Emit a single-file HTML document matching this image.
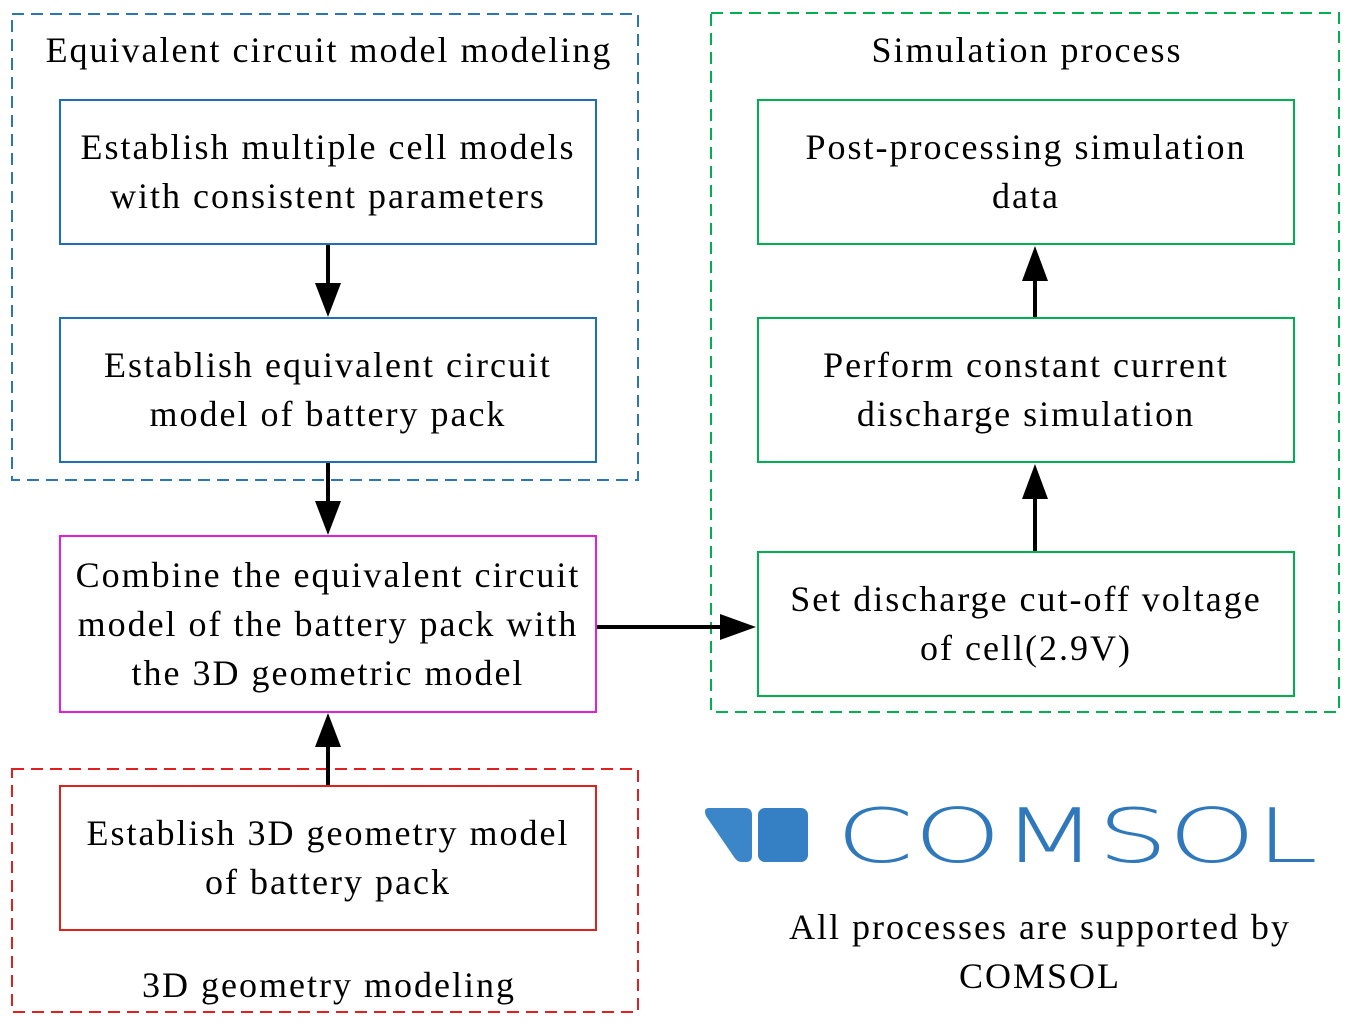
<!DOCTYPE html>
<html><head><meta charset="utf-8"><style>
body{margin:0;width:1350px;height:1026px;background:#fff;position:relative;overflow:hidden;font-family:"Liberation Serif",serif;font-size:36px;letter-spacing:2px;color:#000}
.a{position:absolute;box-sizing:border-box}
.t{position:absolute;text-align:center;line-height:49px;white-space:nowrap}
.b{display:flex;align-items:center;justify-content:center;text-align:center;line-height:49px}
</style></head><body>
<div class="t" style="left:11px;width:636px;top:26px">Equivalent circuit model modeling</div>
<div class="t" style="left:710px;width:634px;top:26px">Simulation process</div>
<div class="t" style="left:11px;width:636px;top:961px">3D geometry modeling</div>
<div class="a b" style="left:59px;top:99px;width:538px;height:146px;border:2px solid #1f6fb4">Establish multiple cell models<br>with consistent parameters</div>
<div class="a b" style="left:59px;top:317px;width:538px;height:146px;border:2px solid #1f6fb4">Establish equivalent circuit<br>model of battery pack</div>
<div class="a b" style="left:59px;top:535px;width:538px;height:178px;border:2px solid #e020e0">Combine the equivalent circuit<br>model of the battery pack with<br>the 3D geometric model</div>
<div class="a b" style="left:59px;top:785px;width:538px;height:146px;border:2px solid #e0201e">Establish 3D geometry model<br>of battery pack</div>
<div class="a b" style="left:757px;top:99px;width:538px;height:146px;border:2px solid #00b050">Post-processing simulation<br>data</div>
<div class="a b" style="left:757px;top:317px;width:538px;height:146px;border:2px solid #00b050">Perform constant current<br>discharge simulation</div>
<div class="a b" style="left:757px;top:551px;width:538px;height:146px;border:2px solid #00b050">Set discharge cut-off voltage<br>of cell(2.9V)</div>
<div class="t" style="left:740px;width:600px;top:903px">All processes are supported by<br>COMSOL</div>
<svg class="a" style="left:0;top:0" width="1350" height="1026">
<g fill="none" stroke-width="2" stroke-dasharray="12,7">
<rect x="12" y="14" width="626" height="466" stroke="#2e75b6"/>
<rect x="711" y="13" width="628" height="699" stroke="#00b050"/>
<rect x="12" y="769" width="626" height="243" stroke="#e0201e"/>
</g>
<g stroke="#000" stroke-width="4" fill="#000">
<line x1="328" y1="245" x2="328" y2="285"/><polygon points="315,283 341,283 328,317" stroke="none"/>
<line x1="328" y1="463" x2="328" y2="503"/><polygon points="315,501 341,501 328,535" stroke="none"/>
<line x1="328" y1="785" x2="328" y2="745"/><polygon points="315,747 341,747 328,713" stroke="none"/>
<line x1="597" y1="627" x2="722" y2="627"/><polygon points="720,614 720,640 756,627" stroke="none"/>
<line x1="1035" y1="551" x2="1035" y2="497"/><polygon points="1022,499 1048,499 1035,464" stroke="none"/>
<line x1="1035" y1="317" x2="1035" y2="279"/><polygon points="1022,281 1048,281 1035,246" stroke="none"/>
</g>
<path d="M709,808 L745,808 Q752,808 752,815 L752,856 Q752,862 746,862 L742,862 Q737,862 734,857 L706,816 Q703,808 709,808Z" fill="#3a86c8"/>
<rect x="758" y="808" width="50" height="54" rx="7" fill="#3580c4"/>
<text x="836" y="862" font-family="DejaVu Sans,sans-serif" font-weight="200" font-size="75" letter-spacing="0" fill="#2f78bc" textLength="482" lengthAdjust="spacingAndGlyphs">COMSOL</text>
</svg>
</body></html>
